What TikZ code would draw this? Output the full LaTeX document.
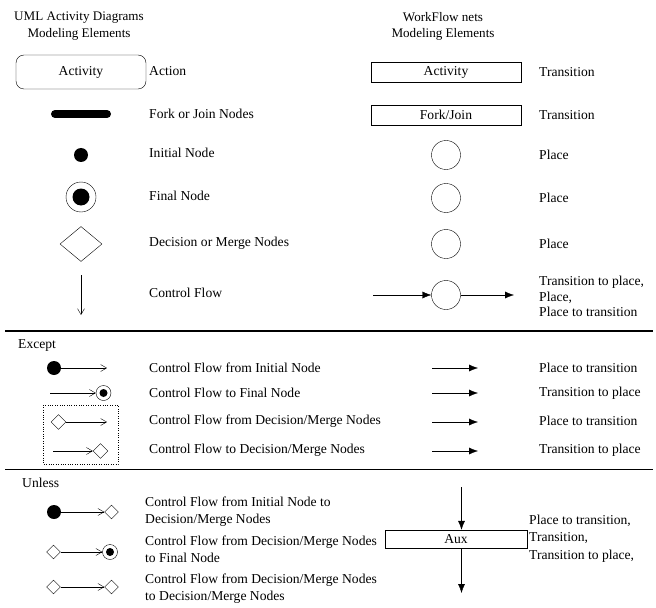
\documentclass[tikz,border=0pt]{standalone}
\usepackage{fontspec}
\setmainfont{Liberation Serif}
\usetikzlibrary{shapes.geometric,arrows.meta}

\begin{document}
\begin{tikzpicture}[x=1bp,y=-1bp,
  every node/.style={font=\fontsize{13.6bp}{16bp}\selectfont},
  lbl/.style={anchor=west,inner sep=0pt},
  head/.style={align=center,inner sep=0pt,font=\fontsize{13.1bp}{16.5bp}\selectfont},
  multi/.style={anchor=west,inner sep=0pt,align=left},
  uact/.style={draw,rounded corners=8bp,minimum width=130bp,minimum height=34bp,inner sep=0pt},
  ptrans/.style={draw,minimum width=150bp,minimum height=20bp,inner sep=0pt},
  place/.style={draw,circle,minimum size=29bp,inner sep=0pt},
  init/.style={fill,circle,minimum size=#1,inner sep=0pt},
  init/.default=14bp,
  ring/.style={draw,circle,minimum size=#1,inner sep=0pt},
  dec/.style={draw,diamond,minimum width=#1,minimum height=#1,inner sep=0pt},
  uarrow/.style={-{Straight Barb[length=6bp,width=7bp]}},
  parrow/.style={-{Latex[length=9bp,width=7bp]}},
  sep/.style={line width=1.4bp}]
\useasboundingbox (0,0) rectangle (656,608);

% column headings
\node[head] (hl) at (79,26) {UML Activity Diagrams\\Modeling Elements};
\node[head] (hr) at (443,26.5) {WorkFlow nets\\Modeling Elements};

% action / activity
\node[uact] (act) at (81,72) {Activity};
\node[lbl] (actl) at (149,71) {Action};
\node[ptrans] (pact) at (446,72) {Activity};
\node[lbl] (pactl) at (539,72) {Transition};

% fork / join
\draw[line width=8bp,line cap=round] (55,114) -- (107,114);
\node[lbl] (forkl) at (149,114) {Fork or Join Nodes};
\node[ptrans] (pfork) at (446,115) {Fork/Join};
\node[lbl] (pforkl) at (539,115) {Transition};

% initial node
\node[init] (ini) at (81,155) {};
\node[lbl] (inil) at (149,153) {Initial Node};
\node[place] (pini) at (446,155) {};
\node[lbl] (pinil) at (539,155) {Place};

% final node
\node[ring=30bp] (fin) at (81,197) {};
\node[init=17bp] (fini) at (81,197) {};
\node[lbl] (finl) at (149,196) {Final Node};
\node[place] (pfin) at (446,198) {};
\node[lbl] (pfinl) at (539,198) {Place};

% decision / merge
\node[draw,diamond,minimum width=42bp,minimum height=35bp,inner sep=0pt] (dm) at (81,244) {};
\node[lbl] (dml) at (149,243) {Decision or Merge Nodes};
\node[place] (pdm) at (446,244) {};
\node[lbl] (pdml) at (539,244) {Place};

% control flow
\coordinate (cf1) at (81,275);
\coordinate (cf2) at (81,315);
\draw[uarrow] (cf1) -- (cf2);
\node[lbl] (cfl) at (149,293) {Control Flow};
\coordinate (pcf1) at (373,295);
\node[place] (pcf) at (446,295) {};
\coordinate (pcf2) at (514,295);
\draw[parrow] (pcf1) -- (pcf);
\draw[parrow] (pcf) -- (pcf2);
\node[multi,font=\fontsize{13.6bp}{15.5bp}\selectfont] (pcfl) at (539,296.5)
  {Transition to place,\\Place,\\Place to transition};

% ---------------- Except ----------------
\draw[sep] (5,331) -- (653,331);
\node[lbl] (exc) at (18,345) {Except};

\node[init] (ea) at (54,368) {};
\coordinate (ea2) at (107,368);
\draw[uarrow] (ea) -- (ea2);
\node[lbl] (eal) at (149,368) {Control Flow from Initial Node};
\coordinate (pa1) at (432,368);
\coordinate (pa2) at (478,368);
\draw[parrow] (pa1) -- (pa2);
\node[lbl] (pal) at (539,368) {Place to transition};

\coordinate (eb1) at (50,393);
\node[ring=15bp] (eb) at (103.5,393) {};
\node[init=8bp] (ebi) at (103.5,393) {};
\draw[uarrow] (eb1) -- (eb);
\node[lbl] (ebl) at (149,393) {Control Flow to Final Node};
\coordinate (pb1) at (432,393);
\coordinate (pb2) at (478,393);
\draw[parrow] (pb1) -- (pb2);
\node[lbl] (pbl) at (539,393) {Transition to place};

\node[dec=15bp] (ec) at (58.5,422) {};
\coordinate (ec2) at (107,422);
\draw[uarrow] (ec) -- (ec2);
\node[lbl] (ecl) at (149,421) {Control Flow from Decision/Merge Nodes};
\coordinate (pc1) at (432,422);
\coordinate (pc2) at (478,422);
\draw[parrow] (pc1) -- (pc2);
\node[lbl] (pcl) at (539,421) {Place to transition};

\coordinate (ed1) at (53,451);
\node[dec=15bp] (ed) at (100.5,451) {};
\draw[uarrow] (ed1) -- (ed);
\node[lbl] (edl) at (149,450) {Control Flow to Decision/Merge Nodes};
\coordinate (pd1) at (432,451);
\coordinate (pd2) at (478,451);
\draw[parrow] (pd1) -- (pd2);
\node[lbl] (pdl) at (539,450) {Transition to place};

\draw[dotted] (43,405) rectangle (118,464);

% ---------------- Unless ----------------
\draw[sep] (5,469.5) -- (653,469.5);
\node[lbl] (unl) at (22,483) {Unless};

\node[init] (ua) at (54,512) {};
\node[dec=14bp] (ua2) at (111.5,512) {};
\draw[uarrow] (ua) -- (ua2);
\node[multi,font=\fontsize{13.6bp}{17bp}\selectfont] (ual) at (145,511.5)
  {Control Flow from Initial Node to\\Decision/Merge Nodes};

\node[dec=14bp] (ub) at (53.5,552) {};
\node[ring=15bp] (ub2) at (110,552) {};
\node[init=8bp] (ub2i) at (110,552) {};
\draw[uarrow] (ub) -- (ub2);
\node[multi,font=\fontsize{13.6bp}{17bp}\selectfont] (ubl) at (145,549)
  {Control Flow from Decision/Merge Nodes\\to Final Node};

\node[dec=14bp] (uc) at (53.5,587) {};
\node[dec=14bp] (uc2) at (111.5,587) {};
\draw[uarrow] (uc) -- (uc2);
\node[multi,font=\fontsize{13.6bp}{17bp}\selectfont] (ucl) at (145,589)
  {Control Flow from Decision/Merge Nodes\\to Decision/Merge Nodes};

\node[ptrans,minimum width=142bp,minimum height=18bp] (aux) at (456,539) {Aux};
\coordinate (aux1) at (461.5,487);
\coordinate (aux2) at (461.5,593);
\draw[parrow] (aux1) -- (aux1 |- aux.north);
\draw[parrow] (aux2 |- aux.south) -- (aux2);
\node[multi,font=\fontsize{13.6bp}{17.5bp}\selectfont] (auxl) at (529,538.5)
  {Place to transition,\\Transition,\\Transition to place,};
\end{tikzpicture}
\end{document}
